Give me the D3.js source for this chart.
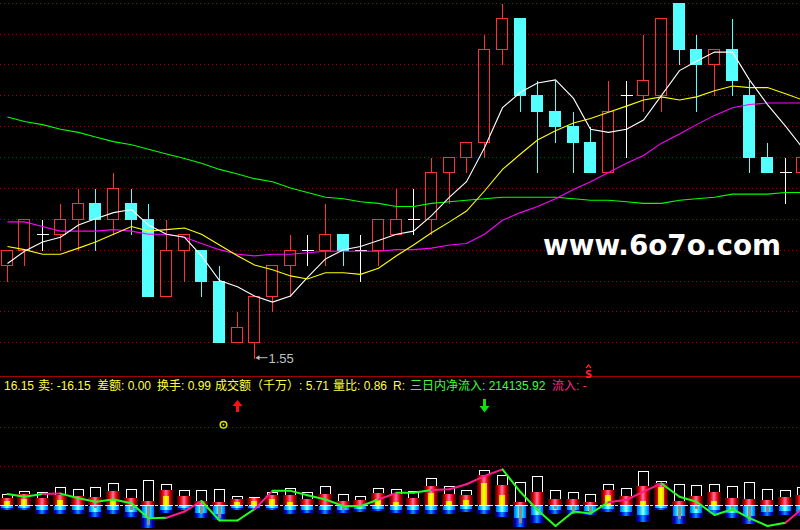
<!DOCTYPE html>
<html>
<head>
<meta charset="utf-8">
<script src="https://cdn.jsdelivr.net/npm/d3@7/dist/d3.min.js"></script>
<style>
  html, body { margin: 0; padding: 0; background: #000; }
  svg { display: block; }
</style>
</head>
<body>
<svg id="chart" width="800" height="530"></svg>
<script>
// daily prices (one entry per candle, left to right)
const open  = [1.61,1.62,1.63,1.63,1.64,1.65,1.64,1.65,1.64,1.59,1.62,1.62,1.60,1.56,1.56,1.59,1.61,1.62,1.62,1.63,1.62,1.62,1.63,1.64,1.64,1.67,1.68,1.69,1.75,1.77,1.72,1.71,1.70,1.69,1.67,1.72,1.72,1.72,1.78,1.75,1.74,1.75,1.72,1.68,1.67,1.67];
const high  = [1.62,1.64,1.64,1.65,1.66,1.66,1.67,1.66,1.65,1.64,1.63,1.62,1.61,1.58,1.59,1.61,1.63,1.63,1.65,1.63,1.63,1.64,1.66,1.66,1.68,1.68,1.69,1.76,1.78,1.77,1.73,1.73,1.71,1.70,1.73,1.73,1.76,1.77,1.78,1.76,1.75,1.77,1.73,1.69,1.68,1.68];
const low   = [1.60,1.61,1.62,1.62,1.62,1.62,1.63,1.63,1.59,1.59,1.60,1.59,1.56,1.56,1.55,1.58,1.59,1.61,1.61,1.61,1.60,1.61,1.63,1.63,1.63,1.65,1.67,1.68,1.74,1.71,1.67,1.69,1.67,1.67,1.67,1.68,1.71,1.71,1.74,1.71,1.72,1.72,1.67,1.67,1.65,1.67];
const close = [1.62,1.64,1.63,1.64,1.65,1.64,1.66,1.64,1.59,1.62,1.63,1.60,1.56,1.57,1.59,1.61,1.62,1.62,1.63,1.62,1.62,1.64,1.64,1.64,1.67,1.68,1.69,1.75,1.77,1.72,1.71,1.70,1.69,1.67,1.71,1.72,1.73,1.77,1.75,1.74,1.75,1.73,1.68,1.67,1.67,1.68];

// moving averages
const ma5  = [1.611,1.619,1.625,1.628,1.636,1.640,1.644,1.646,1.636,1.630,1.628,1.616,1.600,1.596,1.590,1.586,1.590,1.602,1.614,1.620,1.622,1.626,1.630,1.632,1.642,1.654,1.664,1.686,1.712,1.722,1.728,1.730,1.718,1.698,1.696,1.698,1.704,1.720,1.736,1.742,1.748,1.748,1.730,1.714,1.700,1.686];
const ma10 = [1.622,1.620,1.617,1.617,1.621,1.625,1.630,1.635,1.632,1.633,1.634,1.630,1.623,1.616,1.610,1.607,1.603,1.601,1.605,1.605,1.604,1.608,1.616,1.623,1.631,1.638,1.645,1.658,1.672,1.682,1.691,1.697,1.702,1.705,1.709,1.713,1.717,1.719,1.717,1.719,1.723,1.726,1.725,1.725,1.721,1.717];
const ma20 = [1.638,1.638,1.635,1.632,1.632,1.632,1.633,1.632,1.630,1.630,1.628,1.624,1.620,1.617,1.616,1.617,1.617,1.618,1.619,1.619,1.619,1.619,1.620,1.620,1.621,1.623,1.624,1.630,1.639,1.644,1.648,1.653,1.659,1.664,1.670,1.676,1.681,1.689,1.695,1.701,1.707,1.712,1.714,1.715,1.715,1.715];
const ma60 = [1.706,1.703,1.701,1.698,1.696,1.693,1.690,1.688,1.685,1.682,1.679,1.676,1.672,1.669,1.666,1.664,1.660,1.657,1.654,1.653,1.651,1.650,1.648,1.648,1.650,1.651,1.652,1.653,1.654,1.654,1.654,1.654,1.653,1.652,1.652,1.651,1.650,1.650,1.652,1.653,1.654,1.656,1.656,1.656,1.657,1.657];

// lower indicator panel
const volume    = [29,37,33,46,41,46,56,41,64,54,38,38,41,23,21,33,44,33,49,29,23,44,41,36,69,49,38,91,78,59,75,38,33,29,55,44,88,62,55,51,55,49,60,41,38,46];
const inflow    = [18,29,19,26,24,21,37,18,11,39,24,11,8,15,18,26,26,15,29,11,14,31,28,19,49,28,26,78,52,9,35,16,16,9,39,24,49,56,11,24,35,18,16,14,22,26];
const bigInflow = [12,15,0,14,0,0,15,0,0,25,0,0,0,9,12,15,9,0,0,0,0,15,9,0,32,12,14,56,26,0,0,0,0,0,26,0,12,46,0,0,12,0,0,0,0,0];
const outflow   = [-9,-9,-19,-19,-19,-27,-19,-27,-55,-16,-9,-29,-36,-9,-7,-9,-19,-16,-21,-16,-14,-12,-16,-19,-21,-21,-15,-19,-27,-53,-42,-21,-21,-22,-15,-25,-40,-9,-45,-29,-21,-29,-45,-25,-22,-25];
const bigOutflow= [0,0,0,0,0,-5,0,-9,-48,0,0,-21,-29,0,0,0,0,0,0,-10,0,0,0,0,0,0,0,0,0,-42,-8,-6,-16,-16,0,0,0,0,-33,-6,0,-12,-38,-14,0,0];
const flowLine  = [29,22,29,30,18,9,15,5,-33,-32,-16,11,-39,-39,-10,37,37,26,15,-2,-2,15,32,32,39,41,54,75,92,34,-12,-53,-16,-21,8,14,35,56,22,9,-25,-10,-33,-53,-45,-8];
const flowUp    = [0,0,0,1,0,0,0,0,0,0,1,1,0,0,0,1,0,0,0,0,0,0,1,0,0,1,1,1,1,0,0,0,0,0,0,1,1,1,0,0,0,0,0,0,0,1];

// info row
const infoText = [
  ['16.15', '#ffff40', 4],
  ['卖: -16.15', '#ffff40', 38],
  ['差额: 0.00', '#ffff40', 97],
  ['换手: 0.99', '#ffff40', 157],
  ['成交额（千万）: 5.71', '#ffff40', 215],
  ['量比: 0.86', '#ffff40', 333],
  ['R:', '#ffff40', 393],
  ['三日内净流入: 214135.92', '#3cff3c', 410],
  ['流入: -', '#ff2a8a', 552]
];
const signals = [
  {i: 13, type: 'up'},
  {i: 27, type: 'down'},
  {i: 12, type: 'circle'},
  {i: 33, type: 'S'}
];

const svg = d3.select('#chart');
svg.append('rect').attr('width', 800).attr('height', 530).attr('fill', '#000');

const n = close.length;
const step = 17.68;
const x = d3.scaleBand().domain(d3.range(n)).range([-1.54, -1.54 + n * step]);
const cx = i => Math.floor(x(i) + x.bandwidth() / 2) + 0.5;

const yP = d3.scaleLinear().domain([1.55, 1.78]).range([357.7, 2.7]);
const ys = v => Math.round(yP(v)) + 0.5;

// price grid
svg.append('g').attr('id', 'grid-main')
  .selectAll('line')
  .data(d3.range(1.56, 1.781, 0.02))
  .join('line')
    .attr('x1', 0).attr('x2', 800)
    .attr('y1', d => ys(d)).attr('y2', d => ys(d))
    .attr('stroke', '#a00000')
    .attr('stroke-dasharray', '1,3')
    .attr('shape-rendering', 'crispEdges');

// candles
const bars = d3.range(n).map(i => ({i, o: open[i], h: high[i], l: low[i], c: close[i]}));
const gc = svg.append('g').attr('id', 'candles').attr('shape-rendering', 'crispEdges');

const up = bars.filter(d => d.c > d.o);
const down = bars.filter(d => d.c < d.o);
const flat = bars.filter(d => d.c === d.o);

gc.append('g').selectAll('line')
  .data(up.filter(d => d.h > d.c))
  .join('line')
    .attr('x1', d => cx(d.i)).attr('x2', d => cx(d.i))
    .attr('y1', d => ys(d.h)).attr('y2', d => ys(d.c))
    .attr('stroke', '#ff3232');
gc.append('g').selectAll('line')
  .data(up.filter(d => d.l < d.o))
  .join('line')
    .attr('x1', d => cx(d.i)).attr('x2', d => cx(d.i))
    .attr('y1', d => ys(d.o)).attr('y2', d => ys(d.l))
    .attr('stroke', '#ff3232');
gc.append('g').selectAll('rect')
  .data(up)
  .join('rect')
    .attr('x', d => cx(d.i) - 6)
    .attr('y', d => ys(d.c))
    .attr('width', 11)
    .attr('height', d => ys(d.o) - ys(d.c))
    .attr('fill', 'none')
    .attr('stroke', '#ff3232');

gc.append('g').selectAll('line')
  .data(down)
  .join('line')
    .attr('x1', d => cx(d.i)).attr('x2', d => cx(d.i))
    .attr('y1', d => ys(d.h)).attr('y2', d => ys(d.l))
    .attr('stroke', '#54ffff');
gc.append('g').selectAll('rect')
  .data(down)
  .join('rect')
    .attr('x', d => cx(d.i) - 6.5)
    .attr('y', d => ys(d.o) - 0.5)
    .attr('width', 12)
    .attr('height', d => ys(d.c) - ys(d.o) + 1)
    .attr('fill', '#54ffff');

gc.append('g').selectAll('line')
  .data(flat)
  .join('line')
    .attr('x1', d => cx(d.i)).attr('x2', d => cx(d.i))
    .attr('y1', d => ys(d.h)).attr('y2', d => ys(d.l))
    .attr('stroke', '#ffffff');
gc.append('g').selectAll('line')
  .data(flat)
  .join('line')
    .attr('x1', d => cx(d.i) - 6).attr('x2', d => cx(d.i) + 6)
    .attr('y1', d => ys(d.c)).attr('y2', d => ys(d.c))
    .attr('stroke', '#ffffff');

// moving averages
const maLine = d3.line().x((d, i) => cx(i)).y(d => yP(d));
[[ma60, '#00ff00'], [ma20, '#ff00ff'], [ma10, '#ffff00'], [ma5, '#ffffff']].forEach(([s, col]) => {
  svg.append('path')
    .attr('d', maLine(s))
    .attr('fill', 'none')
    .attr('stroke', col)
    .attr('stroke-width', 1.1);
});

// lowest price marker
const iMin = d3.minIndex(low);
const lowG = svg.append('g').attr('id', 'low-label');
lowG.append('line')
  .attr('x1', cx(iMin) + 2).attr('x2', cx(iMin) + 13)
  .attr('y1', yP(low[iMin])).attr('y2', yP(low[iMin]))
  .attr('stroke', '#c0c0c0');
lowG.append('path')
  .attr('d', `M${cx(iMin) + 1},${yP(low[iMin])} l4,-2.5 l0,5 z`)
  .attr('fill', '#c0c0c0');
lowG.append('text')
  .attr('x', cx(iMin) + 14)
  .attr('y', yP(low[iMin]) + 5)
  .attr('font-family', '"Liberation Sans", Arial, sans-serif')
  .attr('font-size', 13)
  .attr('fill', '#c0c0c0')
  .text(d3.format('.2f')(low[iMin]));

// watermark
svg.append('text')
  .attr('x', 543).attr('y', 254.5)
  .attr('font-family', '"DejaVu Sans", "Liberation Sans", sans-serif')
  .attr('font-weight', 'bold')
  .attr('font-size', 29)
  .attr('textLength', 238)
  .attr('lengthAdjust', 'spacingAndGlyphs')
  .attr('fill', '#ffffff')
  .text('www.6o7o.com');

// ---- lower panel ----
const yV = d3.scaleLinear().domain([0, 200]).range([505.3, 427.3]);
const yv = v => Math.round(yV(v));

svg.append('line')
  .attr('x1', 0).attr('x2', 800).attr('y1', 376.5).attr('y2', 376.5)
  .attr('stroke', '#a00000');
svg.append('line')
  .attr('x1', 0).attr('x2', 800).attr('y1', 529.5).attr('y2', 529.5)
  .attr('stroke', '#900000');

svg.append('g').attr('id', 'grid-sub')
  .selectAll('line')
  .data(yV.ticks(2).filter(d => d > 0))
  .join('line')
    .attr('x1', 0).attr('x2', 800)
    .attr('y1', d => yv(d) + 0.5).attr('y2', d => yv(d) + 0.5)
    .attr('stroke', '#a00000')
    .attr('stroke-dasharray', '1,3')
    .attr('shape-rendering', 'crispEdges');

// info row text
svg.append('g').attr('id', 'info')
  .selectAll('text')
  .data(infoText)
  .join('text')
    .attr('x', d => d[2])
    .attr('y', 390)
    .attr('font-family', '"Liberation Sans", "Noto Sans CJK SC", sans-serif')
    .attr('font-size', 12)
    .attr('fill', d => d[1])
    .text(d => d[0]);

// gradients
const defs = svg.append('defs');
function hGrad(id, stops) {
  const g = defs.append('linearGradient').attr('id', id)
    .attr('x1', '0%').attr('x2', '100%').attr('y1', '0%').attr('y2', '0%');
  stops.forEach(([o, c]) => g.append('stop').attr('offset', o).attr('stop-color', c));
}
hGrad('gRed', [[0, '#400000'], [0.18, '#b00000'], [0.34, '#ff2020'], [0.5, '#ff78c0'], [0.66, '#ff2020'], [0.82, '#b00000'], [1, '#400000']]);
hGrad('gYel', [[0, '#d0d000'], [0.5, '#ffff00'], [1, '#d0d000']]);
hGrad('gBlue', [[0, '#000050'], [0.18, '#0000b0'], [0.35, '#0040ff'], [0.5, '#00a0ff'], [0.65, '#0040ff'], [0.82, '#0000b0'], [1, '#000050']]);
hGrad('gCyan', [[0, '#0060ff'], [0.25, '#00d0ff'], [0.5, '#a0ffff'], [0.75, '#00d0ff'], [1, '#0060ff']]);

// zero line
svg.append('line')
  .attr('x1', 0).attr('x2', 800)
  .attr('y1', yv(0) + 0.5).attr('y2', yv(0) + 0.5)
  .attr('stroke', '#ffff00')
  .attr('stroke-dasharray', '3,2');

const gv = svg.append('g').attr('id', 'flow-bars').attr('shape-rendering', 'crispEdges');
const idx = d3.range(n);

gv.append('g').selectAll('rect')
  .data(idx)
  .join('rect')
    .attr('x', i => cx(i) - 5)
    .attr('y', i => yv(volume[i]) + 0.5)
    .attr('width', 10)
    .attr('height', i => yv(0) - yv(volume[i]))
    .attr('fill', 'none')
    .attr('stroke', '#ffffff');

gv.append('g').selectAll('rect')
  .data(idx)
  .join('rect')
    .attr('x', i => cx(i) - 7.5)
    .attr('y', i => yv(inflow[i]))
    .attr('width', 14)
    .attr('height', i => yv(0) - yv(inflow[i]))
    .attr('fill', 'url(#gRed)');

gv.append('g').selectAll('rect')
  .data(idx.filter(i => bigInflow[i] > 0))
  .join('rect')
    .attr('x', i => cx(i) - 3.5)
    .attr('y', i => yv(bigInflow[i]))
    .attr('width', 6)
    .attr('height', i => yv(0) - yv(bigInflow[i]))
    .attr('fill', 'url(#gYel)');

gv.append('g').selectAll('rect')
  .data(idx)
  .join('rect')
    .attr('x', i => cx(i) - 7.5)
    .attr('y', yv(0) + 1)
    .attr('width', 14)
    .attr('height', i => yv(outflow[i]) - yv(0))
    .attr('fill', 'url(#gBlue)');

gv.append('g').selectAll('rect')
  .data(idx)
  .join('rect')
    .attr('x', i => cx(i) - 6.5)
    .attr('y', yv(0) + 1)
    .attr('width', 12)
    .attr('height', i => Math.round((yv(outflow[i]) - yv(0)) * 0.55))
    .attr('fill', 'url(#gCyan)');

gv.append('g').selectAll('rect')
  .data(idx.filter(i => bigOutflow[i] < 0))
  .join('rect')
    .attr('x', i => cx(i) - 1.5)
    .attr('y', yv(0) + 1)
    .attr('width', 3)
    .attr('height', i => yv(bigOutflow[i]) - yv(0))
    .attr('fill', '#8c8c8c');

// flow line, coloured by segment
svg.append('g').attr('id', 'flow-line')
  .selectAll('line')
  .data(idx.slice(1))
  .join('line')
    .attr('x1', i => cx(i - 1)).attr('y1', i => yV(flowLine[i - 1]))
    .attr('x2', i => cx(i)).attr('y2', i => yV(flowLine[i]))
    .attr('stroke', i => flowUp[i] ? '#ff1a8c' : '#22ff22')
    .attr('stroke-width', 2)
    .attr('stroke-linecap', 'round');

// signal marks
const gs = svg.append('g').attr('id', 'signals');
signals.forEach(s => {
  const xc = cx(s.i);
  if (s.type === 'up') {
    gs.append('path').attr('d', `M${xc - 5},406 L${xc},400 L${xc + 5},406 Z`).attr('fill', '#ff1010');
    gs.append('rect').attr('x', xc - 1.5).attr('y', 405).attr('width', 3).attr('height', 7).attr('fill', '#ff1010');
  } else if (s.type === 'down') {
    gs.append('rect').attr('x', xc - 1.5).attr('y', 399).attr('width', 3).attr('height', 8).attr('fill', '#10e010');
    gs.append('path').attr('d', `M${xc - 5},406 L${xc},412.5 L${xc + 5},406 Z`).attr('fill', '#10e010');
  } else if (s.type === 'circle') {
    gs.append('circle').attr('cx', xc + 4).attr('cy', 424.7).attr('r', 3.3)
      .attr('fill', 'none').attr('stroke', '#e0e000').attr('stroke-width', 1.5);
    gs.append('circle').attr('cx', xc + 4).attr('cy', 424.7).attr('r', 1).attr('fill', '#e0e000');
  } else if (s.type === 'S') {
    gs.append('path').attr('d', `M${xc - 4.5},368 L${xc - 2},365 L${xc + 0.5},368`)
      .attr('fill', 'none').attr('stroke', '#ff2020').attr('stroke-width', 1.3);
    gs.append('text').attr('x', xc - 2).attr('y', 377.5)
      .attr('text-anchor', 'middle')
      .attr('font-family', '"DejaVu Sans", sans-serif')
      .attr('font-weight', 'bold')
      .attr('font-size', 10)
      .attr('fill', '#ff2020')
      .text('S');
  }
});
</script>
</body>
</html>
